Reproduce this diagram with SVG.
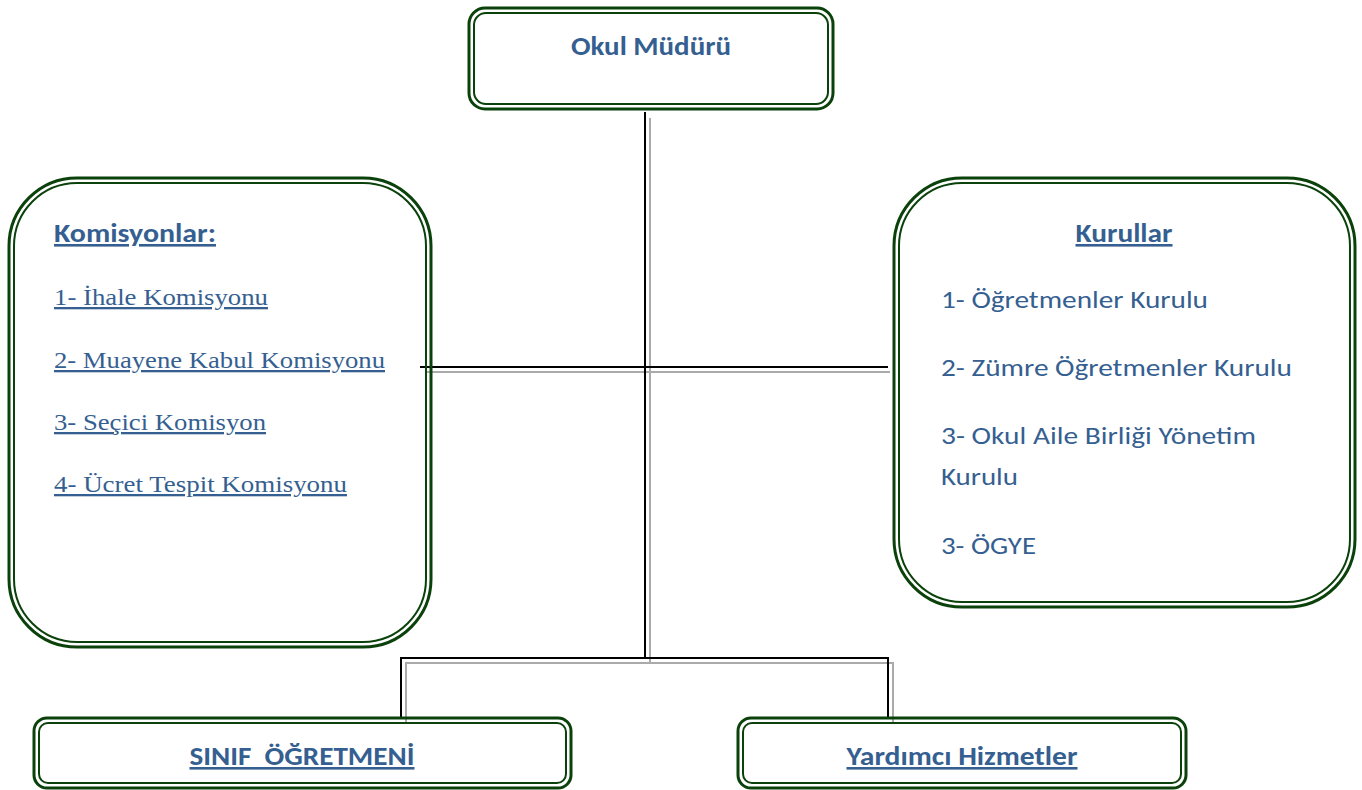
<svg xmlns="http://www.w3.org/2000/svg" width="1362" height="790" viewBox="0 0 1362 790">
<style>
.o{fill:none;stroke:#0b420b;stroke-width:3}
.i{fill:none;stroke:#0b420b;stroke-width:2}
.t{font-family:Carlito,"Open Sans","Liberation Sans",sans-serif;fill:#365f91;font-size:25px}
.b{font-weight:bold;font-size:26px}
.u{text-decoration:underline}
.s{font-family:"Liberation Serif",serif;fill:#365f91;font-size:23px;text-decoration:underline}
.k{stroke:#000;stroke-width:2;fill:none}
.g{stroke:#aaa;stroke-width:2;fill:none}
</style>
<rect width="1362" height="790" fill="#fff"/>
<g id="connectors">
<path class="g" d="M650 118V662M425 372H890M406 722V663H893V722"/>
<path class="k" d="M645 112V657M420 367H888M401 719V658H888V718"/>
</g>
<g id="okul-muduru">
<rect class="o" x="469" y="8" width="364" height="101" rx="16"/>
<rect class="i" x="474" y="13" width="354" height="91" rx="12"/>
<text class="t b" x="651" y="55" text-anchor="middle" textLength="160" lengthAdjust="spacingAndGlyphs">Okul Müdürü</text>
</g>
<g id="komisyonlar">
<rect class="o" x="9" y="178" width="422" height="469" rx="68"/>
<rect class="i" x="14" y="183" width="412" height="459" rx="63"/>
<text class="t b u" x="54" y="242" textLength="162" lengthAdjust="spacingAndGlyphs">Komisyonlar:</text>
<text class="s" x="54" y="305" textLength="214" lengthAdjust="spacingAndGlyphs">1- İhale Komisyonu</text>
<text class="s" x="54" y="368" textLength="331" lengthAdjust="spacingAndGlyphs">2- Muayene Kabul Komisyonu</text>
<text class="s" x="54" y="430" textLength="212" lengthAdjust="spacingAndGlyphs">3- Seçici Komisyon</text>
<text class="s" x="54" y="492" textLength="293" lengthAdjust="spacingAndGlyphs">4- Ücret Tespit Komisyonu</text>
</g>
<g id="kurullar">
<rect class="o" x="894" y="178" width="461" height="429" rx="68"/>
<rect class="i" x="899" y="183" width="451" height="419" rx="63"/>
<text class="t b u" x="1124" y="242" text-anchor="middle" textLength="97" lengthAdjust="spacingAndGlyphs">Kurullar</text>
<text class="t" x="941" y="308" textLength="267" lengthAdjust="spacingAndGlyphs">1- Öğretmenler Kurulu</text>
<text class="t" x="941" y="376" textLength="351" lengthAdjust="spacingAndGlyphs">2- Zümre Öğretmenler Kurulu</text>
<text class="t" x="941" y="444" textLength="315" lengthAdjust="spacingAndGlyphs">3- Okul Aile Birliği Yönetim</text>
<text class="t" x="941" y="485" textLength="77" lengthAdjust="spacingAndGlyphs">Kurulu</text>
<text class="t" x="941" y="554" textLength="95" lengthAdjust="spacingAndGlyphs">3- ÖGYE</text>
</g>
<g id="sinif-ogretmeni">
<rect class="o" x="34" y="718" width="537" height="70" rx="13"/>
<rect class="i" x="39" y="723" width="527" height="60" rx="9"/>
<text class="t b u" x="302" y="765" text-anchor="middle" textLength="225" lengthAdjust="spacingAndGlyphs" style="white-space:pre">SINIF  ÖĞRETMENİ</text>
</g>
<g id="yardimci-hizmetler">
<rect class="o" x="738" y="718" width="448" height="70" rx="13"/>
<rect class="i" x="743" y="723" width="438" height="60" rx="9"/>
<text class="t b u" x="962" y="765" text-anchor="middle" textLength="231" lengthAdjust="spacingAndGlyphs">Yardımcı Hizmetler</text>
</g>
</svg>
